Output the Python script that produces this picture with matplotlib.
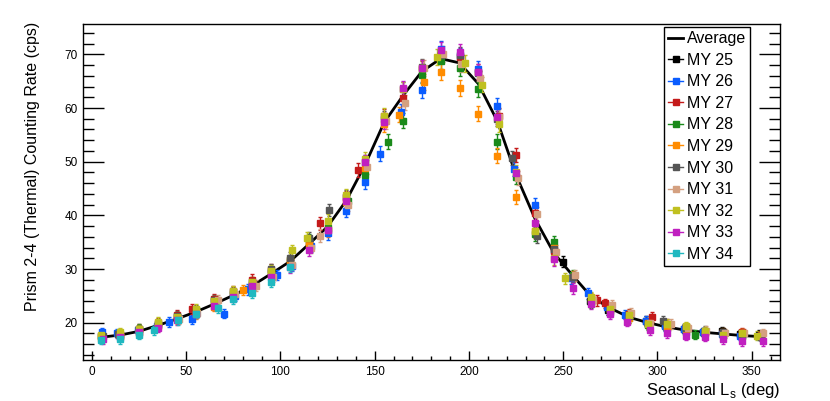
import matplotlib as mpl
mpl.use('Agg')
import matplotlib.pyplot as plt
from matplotlib.lines import Line2D
from matplotlib.ticker import MultipleLocator

plt.rcParams['font.family'] = ['Liberation Sans', 'DejaVu Sans']
plt.rcParams['mathtext.fontset'] = 'custom'
plt.rcParams['mathtext.rm'] = 'Liberation Sans'

# seasonal bins (deg) and the average curve
avg_ls = [5, 15, 25, 35, 45, 55, 65, 75, 85, 95, 105, 115, 125, 135, 145, 155,
          165, 175, 185, 195, 205, 215, 225, 235, 245, 255, 265, 275, 285, 295,
          305, 315, 325, 335, 345, 355]
avg_rate = [17.3, 17.7, 18.4, 19.5, 20.7, 22.0, 23.5, 25.1, 26.9, 29.1, 31.4,
            34.6, 37.9, 42.8, 49.5, 57.3, 62.3, 66.8, 69.2, 68.4, 64.5, 57.6,
            47.5, 39.4, 33.0, 28.8, 24.8, 22.7, 21.0, 20.0, 19.2, 18.6, 18.2,
            17.9, 17.6, 17.4]
# typical error per bin
bin_err = [0.8, 0.8, 0.8, 0.8, 0.9, 0.9, 0.9, 0.9, 1.0, 1.0, 1.0, 1.1, 1.2,
           1.2, 1.3, 1.4, 1.4, 1.5, 1.5, 1.5, 1.4, 1.4, 1.3, 1.3, 1.2, 1.0,
           1.0, 0.9, 0.9, 0.9, 0.9, 0.8, 0.8, 0.8, 0.8, 0.8]

ls25 = [250, 264, 274, 284, 294, 304, 314, 324, 334, 344, 354]
r25 = [31.4, 24.0, 22.3, 21.2, 20.4, 19.6, 18.8, 18.3, 18.4, 17.9, 17.8]

ls26 = [5.5, 13.5, 24.5, 34.5, 41, 53, 70, 76, 83, 98, 106, 116, 125, 135,
        145, 153, 164, 175, 185, 195, 205, 215, 224, 235, 245, 254, 263, 273,
        283, 294, 304, 314, 324, 334, 344, 354]
r26 = [18.3, 18.0, 18.6, 19.3, 20.1, 20.6, 21.7, 25.0, 26.2, 28.9, 30.6, 34.3,
       36.7, 40.8, 46.3, 51.5, 59.3, 63.3, 71.0, 69.6, 67.3, 60.4, 48.6, 41.9,
       33.6, 28.3, 25.5, 22.9, 21.5, 20.3, 19.4, 18.9, 18.3, 17.9, 17.6, 17.5]

ls27 = [5, 15, 25, 35, 45, 53, 65, 75, 85, 95, 105, 115, 121, 135, 141, 155,
        165, 175, 185, 195, 205, 216, 225, 235, 245, 255, 268, 272, 285, 297,
        305, 315, 325, 335, 345, 355]
r27 = [17.6, 17.9, 18.9, 20.0, 21.5, 22.6, 24.5, 25.9, 28.0, 29.9, 31.3, 35.2,
       38.5, 43.4, 48.4, 58.5, 61.8, 67.3, 69.8, 69.5, 66.8, 58.6, 51.2, 40.5,
       33.3, 28.5, 24.2, 23.6, 21.6, 21.1, 19.8, 19.2, 18.0, 18.1, 18.3, 17.7]

ls28 = [5, 15, 25, 35, 45, 55, 65, 75, 85, 95, 105, 115, 125, 136, 145, 157,
        165, 175, 185, 195, 205, 215, 225, 235, 245, 255, 265, 275, 285, 295,
        305, 315, 320, 335, 345, 355]
r28 = [17.5, 17.8, 18.9, 19.8, 21.1, 22.3, 24.0, 25.4, 27.1, 29.4, 31.7, 35.5,
       37.6, 42.7, 47.5, 53.7, 57.6, 66.1, 68.8, 67.5, 63.5, 53.7, 47.2, 36.5,
       35.0, 28.9, 23.8, 22.4, 20.8, 19.6, 19.0, 18.2, 17.8, 17.8, 17.6, 17.5]

ls29 = [5, 15, 25, 35, 45, 55, 65, 80, 85, 95, 105, 115, 125, 135, 145, 155,
        163, 176, 185, 195, 205, 215, 225, 235, 245, 255, 265, 275, 285, 295,
        305, 315, 325, 335, 345, 355]
r29 = [17.2, 17.6, 18.2, 19.3, 20.6, 21.6, 23.0, 26.1, 27.2, 29.0, 31.6, 34.4,
       37.2, 42.5, 48.8, 57.0, 58.7, 64.9, 66.8, 63.7, 58.9, 51.1, 43.4, 37.0,
       33.9, 28.6, 24.5, 22.5, 20.8, 19.9, 19.2, 18.8, 18.3, 18.2, 18.0, 17.5]

ls30 = [6, 14, 25, 35, 45, 55, 65, 75, 85, 95, 105, 115, 126, 135, 145, 155,
        165, 175, 185, 195, 205, 215, 223, 236, 245, 255, 265, 275, 285, 295,
        303, 315, 325, 335, 345, 355]
r30 = [17.6, 17.9, 18.8, 19.6, 21.2, 22.4, 24.2, 25.7, 27.6, 30.0, 32.1, 35.8,
       41.0, 43.5, 50.0, 58.0, 63.5, 67.6, 69.9, 69.8, 66.5, 58.0, 50.6, 36.2,
       33.8, 28.5, 24.3, 22.0, 21.2, 19.8, 20.3, 19.0, 18.5, 18.3, 17.8, 17.4]

ls31 = [5.5, 15, 25, 35, 46, 56, 67, 76, 87, 96, 106, 116, 121, 136, 146, 156,
        166, 176, 186, 196, 206, 216, 226, 236, 246, 256, 266, 276, 286, 296,
        307, 316, 326, 336, 346, 356]
r31 = [17.0, 17.5, 18.0, 19.6, 20.7, 21.8, 24.3, 25.3, 26.9, 28.5, 30.8, 34.0,
       36.2, 42.0, 49.0, 57.5, 61.0, 67.5, 70.0, 68.2, 65.5, 58.4, 47.0, 40.3,
       33.2, 28.8, 24.2, 23.3, 21.8, 20.0, 19.8, 19.0, 18.5, 18.0, 18.1, 18.0]

ls32 = [5, 15, 25, 35, 45, 55, 65, 75, 85, 95, 106, 114, 125, 135, 145, 155,
        165, 175, 183, 198, 207, 216, 225, 235, 245, 251, 265, 275, 285, 295,
        305, 315, 325, 335, 345, 353]
r32 = [17.8, 18.2, 18.8, 20.2, 21.0, 22.6, 24.1, 25.9, 27.5, 29.7, 33.5, 35.8,
       39.0, 43.8, 50.5, 58.6, 63.5, 67.4, 69.5, 68.3, 64.3, 57.0, 48.0, 37.0,
       32.0, 28.3, 24.7, 22.5, 21.4, 19.7, 19.7, 19.3, 18.4, 17.8, 18.0, 17.6]

ls33 = [6, 15, 25, 35, 45, 55, 65, 75, 85, 95, 105, 115, 125, 135, 145, 155,
        165, 175, 185, 195, 205, 215, 225, 235, 245, 255, 265, 275, 284, 296,
        305, 315, 325, 335, 345, 356]
r33 = [16.9, 17.4, 18.2, 19.1, 20.5, 21.7, 23.2, 24.8, 26.8, 28.5, 30.3, 33.5,
       37.3, 42.7, 50.0, 57.4, 63.7, 67.4, 70.8, 70.5, 66.8, 58.4, 47.8, 38.5,
       31.8, 26.4, 23.5, 21.6, 20.2, 18.6, 18.0, 17.5, 17.4, 16.9, 16.5, 16.5]

ls34 = [5, 15, 25, 33, 45.5, 55, 67, 75, 85, 95, 105]
r34 = [16.8, 16.9, 17.7, 18.6, 20.5, 21.7, 22.7, 24.4, 25.6, 27.6, 30.4]

years = ['MY 25', 'MY 26', 'MY 27', 'MY 28', 'MY 29',
         'MY 30', 'MY 31', 'MY 32', 'MY 33', 'MY 34']
ls_all = [ls25, ls26, ls27, ls28, ls29, ls30, ls31, ls32, ls33, ls34]
rate_all = [r25, r26, r27, r28, r29, r30, r31, r32, r33, r34]
colors = ['#000000', '#0a5cff', '#c41a1a', '#1a8a1a', '#ff8c00',
          '#555555', '#d4a080', '#c0c020', '#c020c0', '#20b8c0']


def errors_for(ls_list):
    # pick the typical bin error for each point
    out = []
    for ls in ls_list:
        i = min(int(ls // 10), len(bin_err) - 1)
        out.append(bin_err[i])
    return out


fig = plt.figure(figsize=(8.3, 4.01), dpi=100)
ax = fig.add_axes([82.5 / 830, 1 - 360 / 401, 697.5 / 830, 336 / 401])

ax.plot(avg_ls, avg_rate, color='black', lw=2, zorder=2)

handles = [Line2D([], [], color='black', lw=2)]
for ls, rr, col in zip(ls_all, rate_all, colors):
    ax.errorbar(ls, rr, yerr=errors_for(ls), fmt='s', ms=3.8, color=col,
                mec=col, elinewidth=1, capsize=1.5, capthick=1, zorder=3)
    handles.append(Line2D([], [], color=col, lw=1, marker='s', ms=3.8))

ax.set_xlim(-5, 365)
ax.set_ylim(13.05, 75.65)
ax.xaxis.set_major_locator(MultipleLocator(50))
ax.xaxis.set_minor_locator(MultipleLocator(10))
ax.yaxis.set_major_locator(MultipleLocator(10))
ax.yaxis.set_minor_locator(MultipleLocator(2))
ax.tick_params(axis='x', which='major', direction='in', length=6.5, width=1,
               labelsize=8.5, pad=4.1, top=False)
ax.tick_params(axis='x', which='minor', direction='in', length=3.2, width=1,
               top=False)
ax.tick_params(axis='y', which='major', direction='in', length=15, width=1,
               labelsize=8.5, pad=3.2, right=True)
ax.tick_params(axis='y', which='minor', direction='in', length=7.6, width=1,
               right=True)
for sp in ax.spines.values():
    sp.set_linewidth(1)

fig.text(32 / 830, 1 - 22 / 401, 'Prism 2-4 (Thermal) Counting Rate (cps)',
         rotation=90, ha='center', va='top', fontsize=11.5)
fig.text(780 / 830, 1 - 395 / 401, r'Seasonal L$_\mathregular{s}$ (deg)',
         ha='right', va='baseline', fontsize=12)

leg = fig.legend(handles, ['Average'] + years, loc='upper left',
                 bbox_to_anchor=(664 / 830, 1 - 27.3 / 401),
                 bbox_transform=fig.transFigure, borderaxespad=0,
                 fontsize=11.5, labelspacing=0.41, handlelength=0.95,
                 handletextpad=0.25, borderpad=0.25, fancybox=False,
                 framealpha=1, edgecolor='black')
leg.get_frame().set_linewidth(1)

plt.savefig('out.png', dpi=100)
